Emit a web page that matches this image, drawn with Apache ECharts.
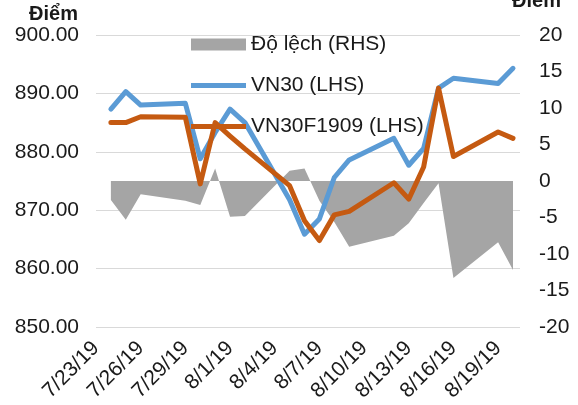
<!DOCTYPE html>
<html>
<head>
<meta charset="utf-8">
<script src="https://cdn.jsdelivr.net/npm/echarts@6/dist/echarts.min.js"></script>
<style>
  html, body { margin: 0; padding: 0; background: #fff; }
  #chart { width: 578px; height: 405px; }
</style>
</head>
<body>
<div id="chart"></div>
<script>
  // ngày giao dịch
  var dates = ['2019-07-24', '2019-07-25', '2019-07-26', '2019-07-29', '2019-07-30',
    '2019-07-31', '2019-08-01', '2019-08-02', '2019-08-05', '2019-08-06',
    '2019-08-07', '2019-08-08', '2019-08-09', '2019-08-12', '2019-08-13',
    '2019-08-14', '2019-08-15', '2019-08-16', '2019-08-19', '2019-08-20'];
  var vn30 = [887.3, 890.3, 888.0, 888.3, 878.8, 883.3, 887.3, 885.0, 871.8, 865.9,
    868.5, 875.6, 878.6, 882.3, 877.7, 880.6, 890.9, 892.6, 891.7, 894.3];
  var vn30f = [885.0, 885.0, 886.0, 885.9, 874.5, 885.0, 882.7, 880.5, 874.2, 868.2,
    864.8, 869.2, 869.8, 874.7, 871.9, 877.4, 890.9, 879.2, 883.4, 882.3];
  var doLech = [-2.6, -5.3, -1.8, -2.7, -3.3, 1.7, -4.9, -4.8, 1.4, 1.7,
    -2.7, -5.6, -9.0, -7.5, -5.8, -3.0, -0.3, -13.3, -8.4, -12.2];
  var startDate = '2019-07-23';
  var seriesNames = ['Độ lệch (RHS)', 'VN30 (LHS)', 'VN30F1909 (LHS)'];

  var DAY = 86400000;
  function dayIndex(s) {
    var p = s.split('-');
    var q = startDate.split('-');
    return (Date.UTC(+p[0], p[1] - 1, +p[2]) - Date.UTC(+q[0], q[1] - 1, +q[2])) / DAY;
  }
  function pairs(vals) {
    return dates.map(function (d, i) { return [dayIndex(d), vals[i]]; });
  }
  function dayLabel(v) {
    var q = startDate.split('-');
    var t = new Date(Date.UTC(+q[0], q[1] - 1, +q[2]) + v * DAY);
    return (t.getUTCMonth() + 1) + '/' + t.getUTCDate() + '/' + String(t.getUTCFullYear()).slice(2);
  }

  var font = 'Liberation Sans, Arial, sans-serif';
  var legendText = { fontSize: 21, color: '#1a1a1a', fontFamily: font };
  var myChart = echarts.init(document.getElementById('chart'));
  var option = {
    animation: false,
    textStyle: { fontFamily: font },
    grid: { left: 96, right: 58, top: 35, bottom: 78, containLabel: false, outerBoundsMode: 'none' },
    legend: [
      {
        orient: 'vertical',
        left: 186,
        top: 29,
        itemWidth: 55,
        itemHeight: 12,
        icon: 'rect',
        textStyle: legendText,
        data: [seriesNames[0]]
      },
      {
        orient: 'vertical',
        left: 186,
        top: 70,
        itemWidth: 55,
        itemHeight: 5,
        itemGap: 20,
        icon: 'rect',
        textStyle: legendText,
        data: [seriesNames[1], seriesNames[2]]
      }
    ],
    graphic: [
      {
        type: 'text',
        right: 17,
        top: -9,
        style: { text: 'Điểm', font: 'bold 20px ' + font, fill: '#1a1a1a' }
      }
    ],
    xAxis: {
      type: 'value',
      min: 0,
      max: 28.47,
      interval: 3,
      axisLine: { show: false },
      axisTick: { show: false },
      splitLine: { show: false },
      axisLabel: {
        rotate: 45,
        margin: 18,
        fontSize: 21,
        color: '#1a1a1a',
        showMaxLabel: false,
        hideOverlap: false,
        formatter: dayLabel
      }
    },
    yAxis: [
      {
        type: 'value',
        min: 850,
        max: 900,
        interval: 10,
        name: 'Điểm',
        nameGap: 10,
        nameTextStyle: { fontSize: 20, fontWeight: 'bold', color: '#1a1a1a', align: 'right', padding: [0, 18, 0, 0] },
        axisLine: { show: false },
        axisTick: { show: false },
        splitLine: { lineStyle: { color: '#D9D9D9', width: 1 } },
        axisLabel: {
          margin: 17,
          fontSize: 21,
          color: '#1a1a1a',
          formatter: function (v) { return v.toFixed(2); }
        }
      },
      {
        type: 'value',
        min: -20,
        max: 20,
        interval: 5,
        axisLine: { show: false },
        axisTick: { show: false },
        splitLine: { show: false },
        axisLabel: { margin: 19, fontSize: 21, color: '#1a1a1a', align: 'left' }
      }
    ],
    series: [
      {
        name: seriesNames[0],
        type: 'line',
        yAxisIndex: 1,
        symbol: 'none',
        z: 1,
        lineStyle: { width: 0, opacity: 0 },
        itemStyle: { color: '#A5A5A5' },
        areaStyle: { color: '#A5A5A5', opacity: 1 },
        data: pairs(doLech)
      },
      {
        name: seriesNames[1],
        type: 'line',
        symbol: 'none',
        z: 2,
        itemStyle: { color: '#5B9BD5' },
        lineStyle: { color: '#5B9BD5', width: 5, cap: 'round', join: 'round' },
        data: pairs(vn30)
      },
      {
        name: seriesNames[2],
        type: 'line',
        symbol: 'none',
        z: 3,
        itemStyle: { color: '#C55A11' },
        lineStyle: { color: '#C55A11', width: 5, cap: 'round', join: 'round' },
        data: pairs(vn30f)
      }
    ]
  };
  myChart.setOption(option, true);
</script>
</body>
</html>
